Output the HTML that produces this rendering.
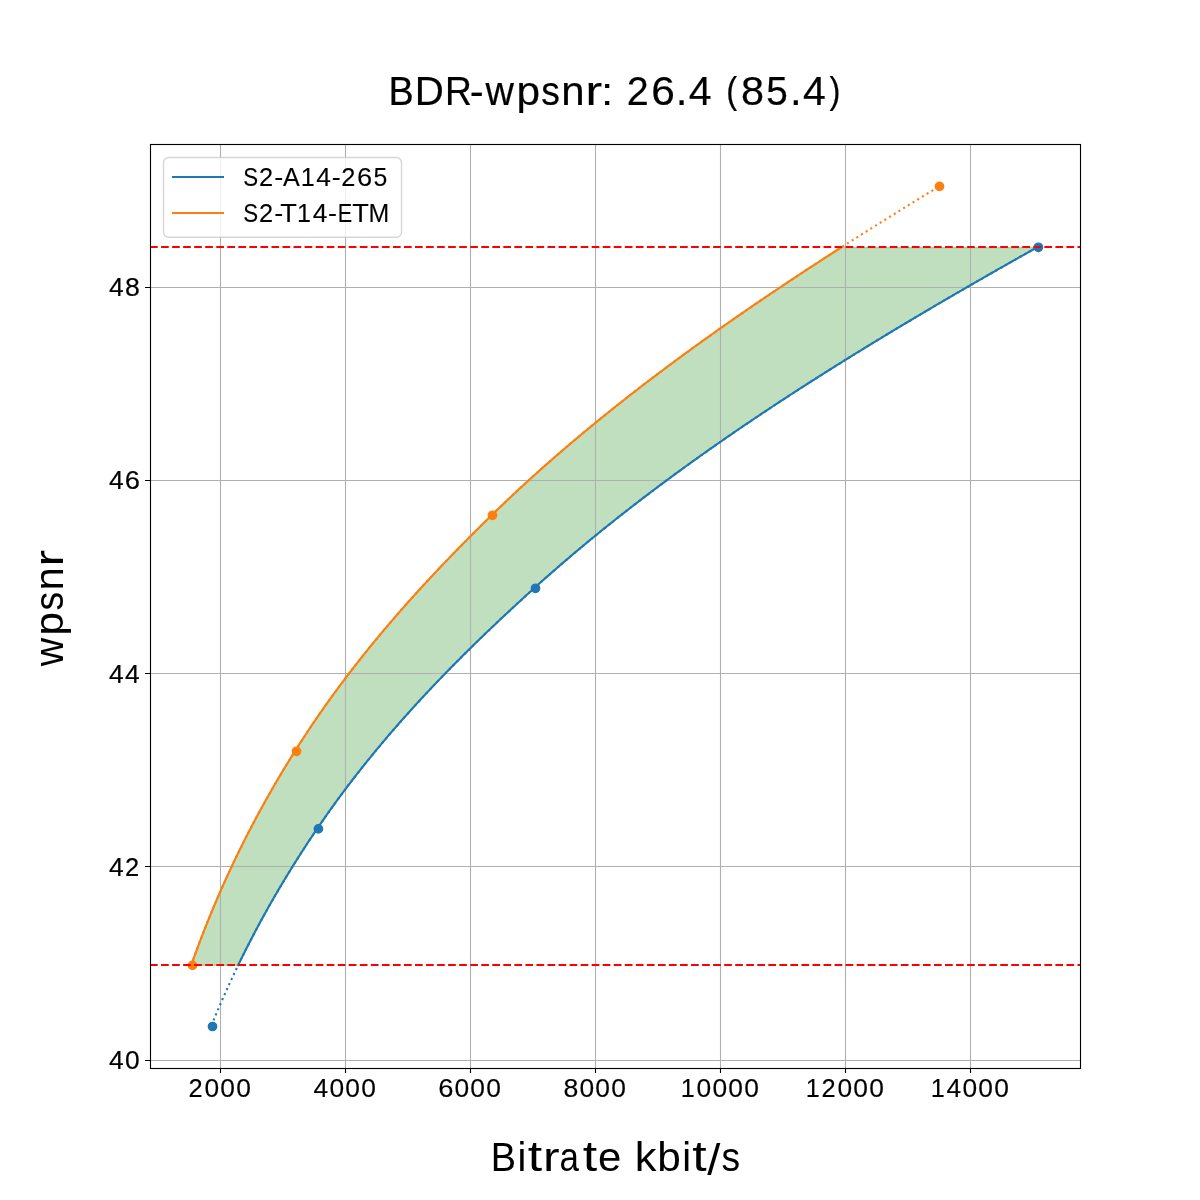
<!DOCTYPE html>
<html><head><meta charset="utf-8"><title>BDR-wpsnr</title>
<style>
html,body{margin:0;padding:0;background:#fff;}
body{width:1200px;height:1200px;overflow:hidden;font-family:"Liberation Sans",sans-serif;}
svg{display:block;}
svg text{font-family:"Liberation Sans",sans-serif;}
svg{will-change:transform;}
</style></head>
<body>
<svg width="1200" height="1200" viewBox="0 0 1200 1200" font-family="Liberation Sans, sans-serif">
<rect width="1200" height="1200" fill="#fff"/>
<path d="M238.17,965.20 L239.92,961.59 L241.68,957.99 L243.47,954.38 L245.27,950.78 L247.09,947.17 L248.93,943.56 L250.79,939.96 L252.66,936.35 L254.56,932.75 L256.47,929.14 L258.40,925.53 L260.34,921.93 L262.31,918.32 L264.29,914.72 L266.30,911.11 L268.32,907.50 L270.36,903.90 L272.41,900.29 L274.49,896.69 L276.59,893.08 L278.70,889.47 L280.83,885.87 L282.99,882.26 L285.16,878.66 L287.35,875.05 L289.55,871.44 L291.78,867.84 L294.03,864.23 L296.29,860.63 L298.58,857.02 L300.88,853.41 L303.20,849.81 L305.55,846.20 L307.91,842.59 L310.29,838.99 L312.69,835.38 L315.10,831.78 L317.54,828.17 L320.00,824.56 L322.48,820.96 L324.99,817.35 L327.52,813.75 L330.08,810.14 L332.66,806.53 L335.26,802.93 L337.89,799.32 L340.55,795.72 L343.23,792.11 L345.93,788.50 L348.66,784.90 L351.41,781.29 L354.19,777.69 L356.99,774.08 L359.82,770.47 L362.68,766.87 L365.55,763.26 L368.46,759.66 L371.39,756.05 L374.34,752.44 L377.32,748.84 L380.32,745.23 L383.35,741.63 L386.41,738.02 L389.49,734.41 L392.59,730.81 L395.72,727.20 L398.88,723.60 L402.06,719.99 L405.26,716.38 L408.49,712.78 L411.74,709.17 L415.02,705.57 L418.32,701.96 L421.65,698.35 L425.00,694.75 L428.38,691.14 L431.78,687.54 L435.20,683.93 L438.65,680.32 L442.12,676.72 L445.62,673.11 L449.14,669.51 L452.68,665.90 L456.24,662.29 L459.83,658.69 L463.44,655.08 L467.07,651.48 L470.73,647.87 L474.41,644.26 L478.10,640.66 L481.82,637.05 L485.57,633.45 L489.33,629.84 L493.11,626.23 L496.91,622.63 L500.74,619.02 L504.58,615.42 L508.44,611.81 L512.33,608.20 L516.23,604.60 L520.14,600.99 L524.08,597.38 L528.04,593.78 L532.01,590.17 L536.00,586.57 L540.01,582.96 L544.06,579.35 L548.13,575.75 L552.24,572.14 L556.37,568.54 L560.53,564.93 L564.72,561.32 L568.94,557.72 L573.19,554.11 L577.47,550.51 L581.79,546.90 L586.13,543.29 L590.49,539.69 L594.89,536.08 L599.32,532.48 L603.78,528.87 L608.27,525.26 L612.79,521.66 L617.34,518.05 L621.92,514.45 L626.52,510.84 L631.16,507.23 L635.83,503.63 L640.53,500.02 L645.25,496.42 L650.01,492.81 L654.80,489.20 L659.61,485.60 L664.46,481.99 L669.33,478.39 L674.24,474.78 L679.17,471.17 L684.14,467.57 L689.13,463.96 L694.15,460.36 L699.20,456.75 L704.28,453.14 L709.39,449.54 L714.53,445.93 L719.70,442.33 L724.90,438.72 L730.12,435.11 L735.37,431.51 L740.66,427.90 L745.97,424.30 L751.30,420.69 L756.67,417.08 L762.06,413.48 L767.49,409.87 L772.94,406.27 L778.41,402.66 L783.92,399.05 L789.45,395.45 L795.01,391.84 L800.59,388.24 L806.20,384.63 L811.84,381.02 L817.50,377.42 L823.20,373.81 L828.91,370.21 L834.65,366.60 L840.42,362.99 L846.21,359.39 L852.03,355.78 L857.87,352.17 L863.73,348.57 L869.62,344.96 L875.54,341.36 L881.47,337.75 L887.43,334.14 L893.42,330.54 L899.42,326.93 L905.45,323.33 L911.50,319.72 L917.57,316.11 L923.67,312.51 L929.78,308.90 L935.92,305.30 L942.07,301.69 L948.25,298.08 L954.44,294.48 L960.66,290.87 L966.89,287.27 L973.15,283.66 L979.42,280.05 L985.70,276.45 L992.01,272.84 L998.33,269.24 L1004.67,265.63 L1011.03,262.02 L1017.40,258.42 L1023.78,254.81 L1030.18,251.21 L1036.60,247.60 L840.95,247.60 L835.33,251.21 L829.73,254.81 L824.15,258.42 L818.59,262.02 L813.05,265.63 L807.53,269.24 L802.04,272.84 L796.56,276.45 L791.11,280.05 L785.68,283.66 L780.27,287.27 L774.89,290.87 L769.53,294.48 L764.19,298.08 L758.88,301.69 L753.59,305.30 L748.33,308.90 L743.09,312.51 L737.87,316.11 L732.68,319.72 L727.52,323.33 L722.38,326.93 L717.26,330.54 L712.17,334.14 L707.11,337.75 L702.07,341.36 L697.06,344.96 L692.07,348.57 L687.11,352.17 L682.18,355.78 L677.27,359.39 L672.39,362.99 L667.54,366.60 L662.71,370.21 L657.92,373.81 L653.14,377.42 L648.40,381.02 L643.68,384.63 L638.99,388.24 L634.33,391.84 L629.69,395.45 L625.09,399.05 L620.51,402.66 L615.96,406.27 L611.43,409.87 L606.94,413.48 L602.47,417.08 L598.03,420.69 L593.62,424.30 L589.23,427.90 L584.88,431.51 L580.55,435.11 L576.25,438.72 L571.98,442.33 L567.74,445.93 L563.52,449.54 L559.33,453.14 L555.17,456.75 L551.04,460.36 L546.94,463.96 L542.87,467.57 L538.82,471.17 L534.80,474.78 L530.81,478.39 L526.85,481.99 L522.92,485.60 L519.01,489.20 L515.13,492.81 L511.28,496.42 L507.46,500.02 L503.67,503.63 L499.90,507.23 L496.16,510.84 L492.45,514.45 L488.76,518.05 L485.09,521.66 L481.44,525.26 L477.80,528.87 L474.18,532.48 L470.58,536.08 L467.00,539.69 L463.44,543.29 L459.90,546.90 L456.37,550.51 L452.87,554.11 L449.38,557.72 L445.92,561.32 L442.48,564.93 L439.05,568.54 L435.65,572.14 L432.27,575.75 L428.90,579.35 L425.56,582.96 L422.25,586.57 L418.95,590.17 L415.67,593.78 L412.42,597.38 L409.19,600.99 L405.98,604.60 L402.79,608.20 L399.63,611.81 L396.49,615.42 L393.37,619.02 L390.27,622.63 L387.19,626.23 L384.14,629.84 L381.11,633.45 L378.11,637.05 L375.13,640.66 L372.17,644.26 L369.23,647.87 L366.32,651.48 L363.43,655.08 L360.56,658.69 L357.72,662.29 L354.90,665.90 L352.10,669.51 L349.33,673.11 L346.58,676.72 L343.85,680.32 L341.15,683.93 L338.47,687.54 L335.81,691.14 L333.17,694.75 L330.56,698.35 L327.98,701.96 L325.41,705.57 L322.87,709.17 L320.35,712.78 L317.86,716.38 L315.38,719.99 L312.93,723.60 L310.51,727.20 L308.10,730.81 L305.72,734.41 L303.36,738.02 L301.03,741.63 L298.71,745.23 L296.42,748.84 L294.15,752.44 L291.90,756.05 L289.67,759.66 L287.45,763.26 L285.26,766.87 L283.08,770.47 L280.92,774.08 L278.78,777.69 L276.65,781.29 L274.55,784.90 L272.46,788.50 L270.39,792.11 L268.34,795.72 L266.31,799.32 L264.30,802.93 L262.30,806.53 L260.32,810.14 L258.36,813.75 L256.42,817.35 L254.49,820.96 L252.58,824.56 L250.69,828.17 L248.82,831.78 L246.97,835.38 L245.13,838.99 L243.31,842.59 L241.51,846.20 L239.72,849.81 L237.96,853.41 L236.20,857.02 L234.47,860.63 L232.75,864.23 L231.05,867.84 L229.37,871.44 L227.70,875.05 L226.06,878.66 L224.42,882.26 L222.81,885.87 L221.21,889.47 L219.62,893.08 L218.05,896.69 L216.50,900.29 L214.97,903.90 L213.45,907.50 L211.94,911.11 L210.46,914.72 L208.98,918.32 L207.53,921.93 L206.09,925.53 L204.66,929.14 L203.25,932.75 L201.85,936.35 L200.47,939.96 L199.11,943.56 L197.76,947.17 L196.42,950.78 L195.10,954.38 L193.79,957.99 L192.50,961.59 L191.22,965.20 Z" fill="#008000" fill-opacity="0.25" stroke="#008000" stroke-opacity="0.25" stroke-width="1.39"/>
<path d="M150,287.5 H1080 M150,480.5 H1080 M150,673.5 H1080 M150,866.5 H1080 M150,1060.5 H1080 M220.5,144 V1068 M345.5,144 V1068 M470.5,144 V1068 M595.5,144 V1068 M720.5,144 V1068 M845.5,144 V1068 M970.5,144 V1068" stroke="#b0b0b0" stroke-width="1.11" fill="none"/>
<path d="M211.40,1025.51 L212.46,1022.90 L213.53,1020.30 L214.61,1017.69 L215.69,1015.09 L216.79,1012.48 L217.89,1009.88 L219.00,1007.28 L220.12,1004.67 L221.25,1002.07 L222.39,999.46 L223.53,996.86 L224.69,994.25 L225.85,991.65 L227.02,989.04 L228.21,986.44 L229.39,983.84 L230.59,981.23 L231.80,978.63 L233.02,976.02 L234.24,973.42 L235.48,970.81 L236.72,968.21 L237.97,965.61 L239.23,963.00 L240.50,960.40 L241.78,957.79 L243.07,955.19 L244.37,952.58 L245.67,949.98 L246.99,947.37 L248.32,944.77 L249.65,942.17 L251.00,939.56 L252.35,936.96 L253.71,934.35 L255.08,931.75 L256.47,929.14 L257.86,926.54 L259.26,923.94 L260.67,921.33 L262.09,918.73 L263.52,916.12 L264.96,913.52 L266.41,910.91 L267.86,908.31 L269.33,905.71 L270.81,903.10 L272.30,900.50 L273.79,897.89 L275.30,895.29 L276.82,892.68 L278.34,890.08 L279.88,887.47 L281.43,884.87 L282.98,882.27 L284.55,879.66 L286.12,877.06 L287.71,874.45 L289.31,871.85 L290.91,869.24 L292.53,866.64 L294.15,864.04 L295.79,861.43 L297.43,858.83 L299.09,856.22 L300.75,853.62 L302.43,851.01 L304.11,848.41 L305.80,845.80 L307.51,843.20 L309.22,840.60 L310.95,837.99 L312.68,835.39 L314.43,832.78 L316.18,830.18 L317.95,827.57 L319.72,824.97 L321.51,822.37 L323.31,819.76 L325.13,817.16 L326.95,814.55 L328.79,811.95 L330.65,809.34 L332.51,806.74 L334.39,804.14 L336.28,801.53 L338.18,798.93 L340.10,796.32 L342.03,793.72 L343.97,791.11 L345.93,788.51 L347.89,785.90 L349.88,783.30 L351.87,780.70 L353.88,778.09 L355.90,775.49 L357.93,772.88 L359.98,770.28 L362.04,767.67 L364.11,765.07 L366.19,762.47 L368.29,759.86 L370.40,757.26 L372.53,754.65 L374.67,752.05 L376.82,749.44 L378.98,746.84 L381.16,744.23 L383.35,741.63 L385.55,739.03 L387.77,736.42 L390.00,733.82 L392.24,731.21 L394.50,728.61 L396.77,726.00 L399.05,723.40 L401.34,720.80 L403.65,718.19 L405.97,715.59 L408.31,712.98 L410.65,710.38 L413.01,707.77 L415.38,705.17 L417.77,702.57 L420.17,699.96 L422.58,697.36 L425.00,694.75 L427.44,692.15 L429.88,689.54 L432.34,686.94 L434.82,684.33 L437.30,681.73 L439.80,679.13 L442.31,676.52 L444.84,673.92 L447.37,671.31 L449.92,668.71 L452.48,666.10 L455.05,663.50 L457.63,660.90 L460.23,658.29 L462.83,655.69 L465.45,653.08 L468.08,650.48 L470.72,647.87 L473.38,645.27 L476.04,642.66 L478.72,640.06 L481.41,637.46 L484.10,634.85 L486.81,632.25 L489.53,629.64 L492.26,627.04 L495.01,624.43 L497.76,621.83 L500.52,619.23 L503.29,616.62 L506.08,614.02 L508.87,611.41 L511.67,608.81 L514.49,606.20 L517.31,603.60 L520.14,601.00 L522.98,598.39 L525.83,595.79 L528.69,593.18 L531.56,590.58 L534.44,587.97 L537.33,585.37 L540.23,582.76 L543.15,580.16 L546.09,577.56 L549.04,574.95 L552.00,572.35 L554.98,569.74 L557.98,567.14 L560.99,564.53 L564.02,561.93 L567.06,559.33 L570.12,556.72 L573.19,554.12 L576.28,551.51 L579.38,548.91 L582.50,546.30 L585.64,543.70 L588.79,541.09 L591.95,538.49 L595.13,535.89 L598.33,533.28 L601.54,530.68 L604.77,528.07 L608.02,525.47 L611.28,522.86 L614.55,520.26 L617.84,517.66 L621.15,515.05 L624.47,512.45 L627.80,509.84 L631.16,507.24 L634.53,504.63 L637.91,502.03 L641.31,499.43 L644.72,496.82 L648.15,494.22 L651.60,491.61 L655.06,489.01 L658.54,486.40 L662.03,483.80 L665.53,481.19 L669.06,478.59 L672.60,475.99 L676.15,473.38 L679.72,470.78 L683.30,468.17 L686.90,465.57 L690.52,462.96 L694.15,460.36 L697.79,457.76 L701.45,455.15 L705.13,452.55 L708.82,449.94 L712.53,447.34 L716.25,444.73 L719.98,442.13 L723.73,439.52 L727.50,436.92 L731.28,434.32 L735.08,431.71 L738.89,429.11 L742.71,426.50 L746.55,423.90 L750.41,421.29 L754.28,418.69 L758.16,416.09 L762.06,413.48 L765.97,410.88 L769.90,408.27 L773.84,405.67 L777.80,403.06 L781.77,400.46 L785.75,397.86 L789.75,395.25 L793.76,392.65 L797.79,390.04 L801.83,387.44 L805.88,384.83 L809.95,382.23 L814.03,379.62 L818.13,377.02 L822.24,374.42 L826.36,371.81 L830.50,369.21 L834.65,366.60 L838.81,364.00 L842.98,361.39 L847.17,358.79 L851.37,356.19 L855.59,353.58 L859.82,350.98 L864.05,348.37 L868.31,345.77 L872.57,343.16 L876.85,340.56 L881.14,337.95 L885.44,335.35 L889.75,332.75 L894.08,330.14 L898.41,327.54 L902.76,324.93 L907.12,322.33 L911.50,319.72 L915.88,317.12 L920.27,314.52 L924.68,311.91 L929.10,309.31 L933.52,306.70 L937.96,304.10 L942.41,301.49 L946.87,298.89 L951.34,296.29 L955.82,293.68 L960.31,291.08 L964.81,288.47 L969.32,285.87 L973.84,283.26 L978.36,280.66 L982.90,278.05 L987.45,275.45 L992.00,272.85 L996.57,270.24 L1001.14,267.64 L1005.72,265.03 L1010.31,262.43 L1014.91,259.82 L1019.52,257.22 L1024.13,254.62 L1028.75,252.01 L1033.38,249.41 L1038.02,246.80" stroke="#1f77b4" stroke-width="2.08" fill="none" stroke-dasharray="2.0833 3.4375" stroke-linecap="butt"/>
<path d="M238.17,965.20 L239.33,962.80 L240.50,960.40 L241.68,958.00 L242.87,955.60 L244.06,953.20 L245.26,950.80 L246.47,948.40 L247.69,946.00 L248.92,943.60 L250.15,941.20 L251.39,938.80 L252.64,936.40 L253.90,934.00 L255.16,931.60 L256.44,929.20 L257.72,926.80 L259.01,924.40 L260.31,922.00 L261.61,919.60 L262.93,917.20 L264.25,914.80 L265.58,912.40 L266.92,910.00 L268.26,907.60 L269.62,905.20 L270.98,902.80 L272.35,900.40 L273.73,898.00 L275.12,895.60 L276.52,893.20 L277.92,890.80 L279.33,888.40 L280.75,886.00 L282.18,883.60 L283.62,881.20 L285.07,878.80 L286.52,876.40 L287.99,874.00 L289.46,871.60 L290.94,869.20 L292.43,866.80 L293.92,864.40 L295.43,862.00 L296.94,859.60 L298.46,857.20 L299.99,854.80 L301.53,852.40 L303.08,850.00 L304.64,847.60 L306.20,845.20 L307.77,842.80 L309.35,840.40 L310.94,838.00 L312.54,835.60 L314.15,833.20 L315.76,830.80 L317.39,828.40 L319.02,826.00 L320.66,823.60 L322.32,821.20 L323.98,818.80 L325.66,816.40 L327.34,814.00 L329.04,811.60 L330.75,809.20 L332.47,806.80 L334.20,804.40 L335.94,802.00 L337.69,799.60 L339.45,797.20 L341.22,794.80 L343.01,792.40 L344.80,790.00 L346.61,787.60 L348.43,785.20 L350.26,782.80 L352.10,780.40 L353.95,778.00 L355.81,775.60 L357.68,773.20 L359.57,770.80 L361.46,768.40 L363.37,766.00 L365.28,763.60 L367.21,761.20 L369.15,758.80 L371.10,756.40 L373.06,754.00 L375.04,751.60 L377.02,749.20 L379.02,746.80 L381.02,744.40 L383.04,742.00 L385.07,739.60 L387.11,737.20 L389.16,734.80 L391.22,732.40 L393.29,730.00 L395.38,727.60 L397.47,725.20 L399.58,722.80 L401.69,720.40 L403.82,718.00 L405.96,715.60 L408.11,713.20 L410.27,710.80 L412.44,708.40 L414.63,706.00 L416.82,703.60 L419.02,701.20 L421.24,698.80 L423.47,696.40 L425.70,694.00 L427.95,691.60 L430.21,689.20 L432.48,686.80 L434.76,684.40 L437.05,682.00 L439.35,679.60 L441.66,677.20 L443.98,674.80 L446.31,672.40 L448.65,670.00 L451.01,667.60 L453.37,665.20 L455.74,662.80 L458.12,660.40 L460.52,658.00 L462.92,655.60 L465.33,653.20 L467.76,650.80 L470.19,648.40 L472.63,646.00 L475.08,643.60 L477.55,641.20 L480.02,638.80 L482.50,636.40 L484.99,634.00 L487.49,631.60 L490.00,629.20 L492.51,626.80 L495.04,624.40 L497.58,622.00 L500.12,619.60 L502.68,617.20 L505.24,614.80 L507.81,612.40 L510.39,610.00 L512.98,607.60 L515.57,605.20 L518.18,602.80 L520.79,600.40 L523.41,598.00 L526.04,595.60 L528.67,593.20 L531.32,590.80 L533.97,588.40 L536.63,586.00 L539.30,583.60 L541.98,581.20 L544.68,578.80 L547.39,576.40 L550.12,574.00 L552.86,571.60 L555.61,569.20 L558.37,566.80 L561.15,564.40 L563.93,562.00 L566.74,559.60 L569.55,557.20 L572.38,554.80 L575.22,552.40 L578.08,550.00 L580.95,547.60 L583.83,545.20 L586.72,542.80 L589.63,540.40 L592.55,538.00 L595.49,535.60 L598.43,533.20 L601.39,530.80 L604.37,528.40 L607.35,526.00 L610.35,523.60 L613.37,521.20 L616.39,518.80 L619.43,516.40 L622.49,514.00 L625.55,511.60 L628.63,509.20 L631.72,506.80 L634.83,504.40 L637.95,502.00 L641.08,499.60 L644.22,497.20 L647.38,494.80 L650.55,492.40 L653.74,490.00 L656.94,487.60 L660.15,485.20 L663.37,482.80 L666.61,480.40 L669.86,478.00 L673.12,475.60 L676.40,473.20 L679.69,470.80 L682.99,468.40 L686.30,466.00 L689.63,463.60 L692.97,461.20 L696.33,458.80 L699.70,456.40 L703.08,454.00 L706.47,451.60 L709.87,449.20 L713.29,446.80 L716.72,444.40 L720.17,442.00 L723.62,439.60 L727.09,437.20 L730.58,434.80 L734.07,432.40 L737.58,430.00 L741.10,427.60 L744.63,425.20 L748.18,422.80 L751.73,420.40 L755.30,418.00 L758.89,415.60 L762.48,413.20 L766.09,410.80 L769.71,408.40 L773.34,406.00 L776.98,403.60 L780.64,401.20 L784.30,398.80 L787.98,396.40 L791.68,394.00 L795.38,391.60 L799.09,389.20 L802.82,386.80 L806.56,384.40 L810.31,382.00 L814.07,379.60 L817.85,377.20 L821.63,374.80 L825.43,372.40 L829.24,370.00 L833.06,367.60 L836.89,365.20 L840.73,362.80 L844.58,360.40 L848.45,358.00 L852.32,355.60 L856.21,353.20 L860.10,350.80 L864.01,348.40 L867.93,346.00 L871.86,343.60 L875.80,341.20 L879.74,338.80 L883.70,336.40 L887.67,334.00 L891.65,331.60 L895.64,329.20 L899.65,326.80 L903.66,324.40 L907.68,322.00 L911.71,319.60 L915.74,317.20 L919.79,314.80 L923.85,312.40 L927.92,310.00 L932.00,307.60 L936.08,305.20 L940.18,302.80 L944.28,300.40 L948.39,298.00 L952.52,295.60 L956.65,293.20 L960.78,290.80 L964.93,288.40 L969.09,286.00 L973.25,283.60 L977.42,281.20 L981.60,278.80 L985.79,276.40 L989.98,274.00 L994.19,271.60 L998.40,269.20 L1002.61,266.80 L1006.84,264.40 L1011.07,262.00 L1015.31,259.60 L1019.55,257.20 L1023.81,254.80 L1028.06,252.40 L1032.33,250.00 L1036.60,247.60" stroke="#1f77b4" stroke-width="2.08" fill="none" stroke-linejoin="round" stroke-linecap="square"/>
<path d="M191.42,964.65 L192.34,962.05 L193.27,959.44 L194.21,956.84 L195.15,954.24 L196.11,951.63 L197.07,949.03 L198.04,946.42 L199.01,943.82 L199.99,941.22 L200.99,938.61 L201.98,936.01 L202.99,933.41 L204.01,930.80 L205.03,928.20 L206.06,925.60 L207.10,922.99 L208.15,920.39 L209.20,917.79 L210.26,915.18 L211.33,912.58 L212.41,909.98 L213.50,907.37 L214.60,904.77 L215.70,902.17 L216.81,899.56 L217.94,896.96 L219.06,894.36 L220.20,891.75 L221.35,889.15 L222.50,886.55 L223.67,883.94 L224.84,881.34 L226.02,878.74 L227.21,876.13 L228.41,873.53 L229.61,870.93 L230.83,868.32 L232.05,865.72 L233.28,863.11 L234.53,860.51 L235.78,857.91 L237.04,855.30 L238.30,852.70 L239.58,850.10 L240.87,847.49 L242.16,844.89 L243.47,842.29 L244.78,839.68 L246.10,837.08 L247.43,834.48 L248.77,831.87 L250.12,829.27 L251.48,826.67 L252.85,824.06 L254.23,821.46 L255.61,818.86 L257.01,816.25 L258.41,813.65 L259.83,811.05 L261.25,808.44 L262.68,805.84 L264.12,803.24 L265.58,800.63 L267.04,798.03 L268.51,795.43 L269.99,792.82 L271.48,790.22 L272.97,787.61 L274.48,785.01 L276.00,782.41 L277.53,779.80 L279.06,777.20 L280.61,774.60 L282.17,771.99 L283.73,769.39 L285.30,766.79 L286.89,764.18 L288.48,761.58 L290.09,758.98 L291.70,756.37 L293.32,753.77 L294.95,751.17 L296.59,748.56 L298.25,745.96 L299.91,743.36 L301.59,740.75 L303.28,738.15 L304.98,735.55 L306.69,732.94 L308.41,730.34 L310.15,727.74 L311.90,725.13 L313.66,722.53 L315.43,719.93 L317.21,717.32 L319.01,714.72 L320.81,712.12 L322.63,709.51 L324.46,706.91 L326.31,704.30 L328.16,701.70 L330.03,699.10 L331.91,696.49 L333.80,693.89 L335.70,691.29 L337.62,688.68 L339.54,686.08 L341.48,683.48 L343.44,680.87 L345.40,678.27 L347.38,675.67 L349.36,673.06 L351.36,670.46 L353.38,667.86 L355.40,665.25 L357.44,662.65 L359.49,660.05 L361.55,657.44 L363.62,654.84 L365.71,652.24 L367.80,649.63 L369.91,647.03 L372.03,644.43 L374.17,641.82 L376.31,639.22 L378.47,636.62 L380.64,634.01 L382.82,631.41 L385.02,628.80 L387.22,626.20 L389.44,623.60 L391.67,620.99 L393.91,618.39 L396.16,615.79 L398.43,613.18 L400.70,610.58 L402.99,607.98 L405.29,605.37 L407.60,602.77 L409.93,600.17 L412.26,597.56 L414.61,594.96 L416.96,592.36 L419.33,589.75 L421.71,587.15 L424.10,584.55 L426.51,581.94 L428.92,579.34 L431.34,576.74 L433.78,574.13 L436.23,571.53 L438.68,568.93 L441.15,566.32 L443.63,563.72 L446.12,561.12 L448.62,558.51 L451.13,555.91 L453.65,553.31 L456.18,550.70 L458.72,548.10 L461.28,545.49 L463.84,542.89 L466.41,540.29 L468.99,537.68 L471.58,535.08 L474.18,532.48 L476.79,529.87 L479.41,527.27 L482.04,524.67 L484.68,522.06 L487.33,519.46 L489.98,516.86 L492.65,514.25 L495.33,511.65 L498.02,509.05 L500.72,506.44 L503.44,503.84 L506.18,501.24 L508.93,498.63 L511.69,496.03 L514.47,493.43 L517.27,490.82 L520.08,488.22 L522.90,485.62 L525.74,483.01 L528.59,480.41 L531.45,477.81 L534.33,475.20 L537.23,472.60 L540.14,469.99 L543.07,467.39 L546.01,464.79 L548.96,462.18 L551.93,459.58 L554.91,456.98 L557.91,454.37 L560.92,451.77 L563.95,449.17 L566.99,446.56 L570.05,443.96 L573.12,441.36 L576.21,438.75 L579.31,436.15 L582.43,433.55 L585.56,430.94 L588.70,428.34 L591.86,425.74 L595.04,423.13 L598.23,420.53 L601.43,417.93 L604.65,415.32 L607.88,412.72 L611.13,410.12 L614.39,407.51 L617.67,404.91 L620.96,402.31 L624.26,399.70 L627.58,397.10 L630.92,394.50 L634.26,391.89 L637.63,389.29 L641.00,386.68 L644.40,384.08 L647.80,381.48 L651.22,378.87 L654.66,376.27 L658.11,373.67 L661.57,371.06 L665.05,368.46 L668.54,365.86 L672.04,363.25 L675.56,360.65 L679.09,358.05 L682.64,355.44 L686.20,352.84 L689.78,350.24 L693.36,347.63 L696.97,345.03 L700.58,342.43 L704.21,339.82 L707.85,337.22 L711.51,334.62 L715.18,332.01 L718.86,329.41 L722.56,326.81 L726.27,324.20 L729.99,321.60 L733.72,319.00 L737.47,316.39 L741.23,313.79 L745.01,311.18 L748.80,308.58 L752.60,305.98 L756.41,303.37 L760.23,300.77 L764.07,298.17 L767.92,295.56 L771.78,292.96 L775.66,290.36 L779.54,287.75 L783.44,285.15 L787.35,282.55 L791.28,279.94 L795.21,277.34 L799.16,274.74 L803.11,272.13 L807.08,269.53 L811.06,266.93 L815.05,264.32 L819.06,261.72 L823.07,259.12 L827.09,256.51 L831.13,253.91 L835.18,251.31 L839.23,248.70 L843.30,246.10 L847.38,243.50 L851.46,240.89 L855.56,238.29 L859.67,235.69 L863.79,233.08 L867.91,230.48 L872.05,227.87 L876.19,225.27 L880.35,222.67 L884.51,220.06 L888.69,217.46 L892.87,214.86 L897.06,212.25 L901.26,209.65 L905.47,207.05 L909.68,204.44 L913.91,201.84 L918.14,199.24 L922.38,196.63 L926.62,194.03 L930.88,191.43 L935.14,188.82 L939.41,186.22" stroke="#ff7f0e" stroke-width="2.08" fill="none" stroke-dasharray="2.0833 3.4375" stroke-linecap="butt"/>
<path d="M191.22,965.20 L192.07,962.80 L192.93,960.40 L193.79,958.00 L194.66,955.60 L195.53,953.20 L196.41,950.80 L197.30,948.40 L198.19,946.00 L199.09,943.60 L200.00,941.20 L200.91,938.80 L201.84,936.40 L202.76,934.00 L203.70,931.60 L204.64,929.20 L205.58,926.80 L206.54,924.40 L207.50,922.00 L208.47,919.60 L209.44,917.20 L210.42,914.80 L211.41,912.40 L212.40,910.00 L213.41,907.60 L214.42,905.20 L215.43,902.80 L216.46,900.40 L217.49,898.00 L218.52,895.60 L219.57,893.20 L220.62,890.80 L221.68,888.40 L222.75,886.00 L223.82,883.60 L224.90,881.20 L225.99,878.80 L227.09,876.40 L228.19,874.00 L229.30,871.60 L230.42,869.20 L231.54,866.80 L232.67,864.40 L233.81,862.00 L234.96,859.60 L236.12,857.20 L237.28,854.80 L238.45,852.40 L239.63,850.00 L240.81,847.60 L242.01,845.20 L243.21,842.80 L244.42,840.40 L245.63,838.00 L246.86,835.60 L248.09,833.20 L249.33,830.80 L250.57,828.40 L251.83,826.00 L253.09,823.60 L254.36,821.20 L255.64,818.80 L256.93,816.40 L258.22,814.00 L259.52,811.60 L260.83,809.20 L262.15,806.80 L263.48,804.40 L264.81,802.00 L266.15,799.60 L267.50,797.20 L268.86,794.80 L270.23,792.40 L271.60,790.00 L272.98,787.60 L274.37,785.20 L275.77,782.80 L277.18,780.40 L278.59,778.00 L280.01,775.60 L281.44,773.20 L282.88,770.80 L284.33,768.40 L285.78,766.00 L287.25,763.60 L288.72,761.20 L290.19,758.80 L291.68,756.40 L293.18,754.00 L294.68,751.60 L296.19,749.20 L297.71,746.80 L299.24,744.40 L300.78,742.00 L302.34,739.60 L303.90,737.20 L305.47,734.80 L307.05,732.40 L308.64,730.00 L310.24,727.60 L311.85,725.20 L313.47,722.80 L315.10,720.40 L316.75,718.00 L318.40,715.60 L320.06,713.20 L321.73,710.80 L323.41,708.40 L325.10,706.00 L326.81,703.60 L328.52,701.20 L330.24,698.80 L331.98,696.40 L333.72,694.00 L335.47,691.60 L337.24,689.20 L339.01,686.80 L340.80,684.40 L342.59,682.00 L344.40,679.60 L346.21,677.20 L348.04,674.80 L349.87,672.40 L351.72,670.00 L353.58,667.60 L355.44,665.20 L357.32,662.80 L359.21,660.40 L361.11,658.00 L363.01,655.60 L364.93,653.20 L366.86,650.80 L368.80,648.40 L370.75,646.00 L372.71,643.60 L374.68,641.20 L376.66,638.80 L378.65,636.40 L380.65,634.00 L382.66,631.60 L384.68,629.20 L386.71,626.80 L388.75,624.40 L390.81,622.00 L392.87,619.60 L394.94,617.20 L397.02,614.80 L399.11,612.40 L401.21,610.00 L403.32,607.60 L405.45,605.20 L407.58,602.80 L409.72,600.40 L411.87,598.00 L414.03,595.60 L416.20,593.20 L418.38,590.80 L420.57,588.40 L422.77,586.00 L424.98,583.60 L427.19,581.20 L429.42,578.80 L431.66,576.40 L433.90,574.00 L436.16,571.60 L438.42,569.20 L440.70,566.80 L442.98,564.40 L445.27,562.00 L447.57,559.60 L449.88,557.20 L452.20,554.80 L454.53,552.40 L456.87,550.00 L459.21,547.60 L461.57,545.20 L463.93,542.80 L466.30,540.40 L468.68,538.00 L471.06,535.60 L473.46,533.20 L475.86,530.80 L478.27,528.40 L480.69,526.00 L483.12,523.60 L485.56,521.20 L488.00,518.80 L490.45,516.40 L492.91,514.00 L495.38,511.60 L497.86,509.20 L500.35,506.80 L502.86,504.40 L505.38,502.00 L507.91,499.60 L510.45,497.20 L513.01,494.80 L515.57,492.40 L518.15,490.00 L520.75,487.60 L523.35,485.20 L525.97,482.80 L528.60,480.40 L531.24,478.00 L533.89,475.60 L536.56,473.20 L539.24,470.80 L541.93,468.40 L544.64,466.00 L547.35,463.60 L550.08,461.20 L552.82,458.80 L555.58,456.40 L558.34,454.00 L561.12,451.60 L563.91,449.20 L566.72,446.80 L569.53,444.40 L572.36,442.00 L575.20,439.60 L578.06,437.20 L580.93,434.80 L583.80,432.40 L586.70,430.00 L589.60,427.60 L592.52,425.20 L595.44,422.80 L598.38,420.40 L601.34,418.00 L604.30,415.60 L607.28,413.20 L610.27,410.80 L613.28,408.40 L616.29,406.00 L619.32,403.60 L622.36,401.20 L625.41,398.80 L628.47,396.40 L631.55,394.00 L634.64,391.60 L637.74,389.20 L640.86,386.80 L643.98,384.40 L647.12,382.00 L650.27,379.60 L653.43,377.20 L656.60,374.80 L659.79,372.40 L662.99,370.00 L666.20,367.60 L669.42,365.20 L672.65,362.80 L675.90,360.40 L679.16,358.00 L682.43,355.60 L685.71,353.20 L689.00,350.80 L692.30,348.40 L695.62,346.00 L698.95,343.60 L702.29,341.20 L705.64,338.80 L709.00,336.40 L712.38,334.00 L715.76,331.60 L719.16,329.20 L722.56,326.80 L725.98,324.40 L729.41,322.00 L732.86,319.60 L736.31,317.20 L739.77,314.80 L743.25,312.40 L746.73,310.00 L750.23,307.60 L753.73,305.20 L757.25,302.80 L760.78,300.40 L764.32,298.00 L767.87,295.60 L771.43,293.20 L775.00,290.80 L778.58,288.40 L782.17,286.00 L785.77,283.60 L789.38,281.20 L793.00,278.80 L796.63,276.40 L800.28,274.00 L803.93,271.60 L807.59,269.20 L811.26,266.80 L814.94,264.40 L818.63,262.00 L822.32,259.60 L826.03,257.20 L829.75,254.80 L833.47,252.40 L837.21,250.00 L840.95,247.60" stroke="#ff7f0e" stroke-width="2.08" fill="none" stroke-linejoin="round" stroke-linecap="square"/>
<circle cx="212.5" cy="1026.5" r="4.17" fill="#1f77b4" stroke="#1f77b4" stroke-width="1.39"/>
<circle cx="318.4" cy="828.9" r="4.17" fill="#1f77b4" stroke="#1f77b4" stroke-width="1.39"/>
<circle cx="535.5" cy="588.3" r="4.17" fill="#1f77b4" stroke="#1f77b4" stroke-width="1.39"/>
<circle cx="1038.4" cy="247.3" r="4.17" fill="#1f77b4" stroke="#1f77b4" stroke-width="1.39"/>
<circle cx="192.5" cy="965.4" r="4.17" fill="#ff7f0e" stroke="#ff7f0e" stroke-width="1.39"/>
<circle cx="296.5" cy="751.3" r="4.17" fill="#ff7f0e" stroke="#ff7f0e" stroke-width="1.39"/>
<circle cx="492.5" cy="515.3" r="4.17" fill="#ff7f0e" stroke="#ff7f0e" stroke-width="1.39"/>
<circle cx="939.5" cy="186.4" r="4.17" fill="#ff7f0e" stroke="#ff7f0e" stroke-width="1.39"/>
<path d="M150,247.0 H1080" stroke="#ff0000" stroke-width="2.08" stroke-dasharray="7.7083 3.3333" fill="none"/>
<path d="M150,965.0 H1080" stroke="#ff0000" stroke-width="2.08" stroke-dasharray="7.7083 3.3333" fill="none"/>
<rect x="150.5" y="144.5" width="930" height="924" fill="none" stroke="#000" stroke-width="1.11"/>
<path d="M220.5,1068 V1073 M345.5,1068 V1073 M470.5,1068 V1073 M595.5,1068 V1073 M720.5,1068 V1073 M845.5,1068 V1073 M970.5,1068 V1073 M145,287.5 H150 M145,480.5 H150 M145,673.5 H150 M145,866.5 H150 M145,1060.5 H150" stroke="#000" stroke-width="1.11" fill="none"/>
<g fill="#000" stroke="#000" stroke-width="0">
<text stroke="#000" stroke-width="0.15" transform="translate(187.94 1096.72)"><tspan x="0.55" y="0.00" font-size="26.57" textLength="14.13" lengthAdjust="spacingAndGlyphs">2</tspan><tspan x="16.52" y="0.00" font-size="26.57" textLength="14.66" lengthAdjust="spacingAndGlyphs">0</tspan><tspan x="32.43" y="0.00" font-size="26.57" textLength="14.66" lengthAdjust="spacingAndGlyphs">0</tspan><tspan x="48.34" y="0.00" font-size="26.57" textLength="14.66" lengthAdjust="spacingAndGlyphs">0</tspan></text>
<text stroke="#000" stroke-width="0.15" transform="translate(312.94 1096.72)"><tspan x="0.62" y="0.00" font-size="26.49" textLength="14.66" lengthAdjust="spacingAndGlyphs">4</tspan><tspan x="16.52" y="0.00" font-size="26.57" textLength="14.66" lengthAdjust="spacingAndGlyphs">0</tspan><tspan x="32.43" y="0.00" font-size="26.57" textLength="14.66" lengthAdjust="spacingAndGlyphs">0</tspan><tspan x="48.34" y="0.00" font-size="26.57" textLength="14.66" lengthAdjust="spacingAndGlyphs">0</tspan></text>
<text stroke="#000" stroke-width="0.15" transform="translate(437.94 1096.72)"><tspan x="0.36" y="0.00" font-size="26.57" textLength="15.17" lengthAdjust="spacingAndGlyphs">6</tspan><tspan x="16.52" y="0.00" font-size="26.57" textLength="14.66" lengthAdjust="spacingAndGlyphs">0</tspan><tspan x="32.43" y="0.00" font-size="26.57" textLength="14.66" lengthAdjust="spacingAndGlyphs">0</tspan><tspan x="48.34" y="0.00" font-size="26.57" textLength="14.66" lengthAdjust="spacingAndGlyphs">0</tspan></text>
<text stroke="#000" stroke-width="0.15" transform="translate(562.94 1096.72)"><tspan x="0.54" y="0.00" font-size="26.57" textLength="14.82" lengthAdjust="spacingAndGlyphs">8</tspan><tspan x="16.52" y="0.00" font-size="26.57" textLength="14.66" lengthAdjust="spacingAndGlyphs">0</tspan><tspan x="32.43" y="0.00" font-size="26.57" textLength="14.66" lengthAdjust="spacingAndGlyphs">0</tspan><tspan x="48.34" y="0.00" font-size="26.57" textLength="14.66" lengthAdjust="spacingAndGlyphs">0</tspan></text>
<text stroke="#000" stroke-width="0.15" transform="translate(679.98 1096.72)"><tspan x="0.83" y="0.00" font-size="26.49" textLength="14.00" lengthAdjust="spacingAndGlyphs">1</tspan><tspan x="16.52" y="0.00" font-size="26.57" textLength="14.66" lengthAdjust="spacingAndGlyphs">0</tspan><tspan x="32.43" y="0.00" font-size="26.57" textLength="14.66" lengthAdjust="spacingAndGlyphs">0</tspan><tspan x="48.34" y="0.00" font-size="26.57" textLength="14.66" lengthAdjust="spacingAndGlyphs">0</tspan><tspan x="64.24" y="0.00" font-size="26.57" textLength="14.66" lengthAdjust="spacingAndGlyphs">0</tspan></text>
<text stroke="#000" stroke-width="0.15" transform="translate(804.98 1096.72)"><tspan x="0.83" y="0.00" font-size="26.49" textLength="14.00" lengthAdjust="spacingAndGlyphs">1</tspan><tspan x="16.46" y="0.00" font-size="26.57" textLength="14.13" lengthAdjust="spacingAndGlyphs">2</tspan><tspan x="32.43" y="0.00" font-size="26.57" textLength="14.66" lengthAdjust="spacingAndGlyphs">0</tspan><tspan x="48.34" y="0.00" font-size="26.57" textLength="14.66" lengthAdjust="spacingAndGlyphs">0</tspan><tspan x="64.24" y="0.00" font-size="26.57" textLength="14.66" lengthAdjust="spacingAndGlyphs">0</tspan></text>
<text stroke="#000" stroke-width="0.15" transform="translate(929.98 1096.72)"><tspan x="0.83" y="0.00" font-size="26.49" textLength="14.00" lengthAdjust="spacingAndGlyphs">1</tspan><tspan x="16.52" y="0.00" font-size="26.49" textLength="14.66" lengthAdjust="spacingAndGlyphs">4</tspan><tspan x="32.43" y="0.00" font-size="26.57" textLength="14.66" lengthAdjust="spacingAndGlyphs">0</tspan><tspan x="48.34" y="0.00" font-size="26.57" textLength="14.66" lengthAdjust="spacingAndGlyphs">0</tspan><tspan x="64.24" y="0.00" font-size="26.57" textLength="14.66" lengthAdjust="spacingAndGlyphs">0</tspan></text>
<text transform="translate(489.95 1171.36)"><tspan x="0.72" y="0.00" font-size="41.21" textLength="25.20" lengthAdjust="spacingAndGlyphs">B</tspan><tspan x="27.68" y="0.00" font-size="40.78" textLength="8.83" lengthAdjust="spacingAndGlyphs">i</tspan><tspan x="37.74" y="0.00" font-size="42.24" textLength="14.44" lengthAdjust="spacingAndGlyphs">t</tspan><tspan x="52.95" y="0.00" font-size="40.48" textLength="16.59" lengthAdjust="spacingAndGlyphs">r</tspan><tspan x="69.57" y="0.00" font-size="40.48" textLength="19.45" lengthAdjust="spacingAndGlyphs">a</tspan><tspan x="92.81" y="0.00" font-size="42.24" textLength="14.44" lengthAdjust="spacingAndGlyphs">t</tspan><tspan x="108.16" y="0.00" font-size="40.48" textLength="23.36" lengthAdjust="spacingAndGlyphs">e</tspan><tspan x="131.72" y="0"> </tspan><tspan x="144.69" y="0.00" font-size="40.78" textLength="21.74" lengthAdjust="spacingAndGlyphs">k</tspan><tspan x="167.41" y="0.00" font-size="40.78" textLength="23.53" lengthAdjust="spacingAndGlyphs">b</tspan><tspan x="192.30" y="0.00" font-size="40.78" textLength="8.83" lengthAdjust="spacingAndGlyphs">i</tspan><tspan x="202.35" y="0.00" font-size="42.24" textLength="14.44" lengthAdjust="spacingAndGlyphs">t</tspan><tspan x="217.34" y="3.18" font-size="43.52" textLength="13.10" lengthAdjust="spacingAndGlyphs">/</tspan><tspan x="231.52" y="0.00" font-size="40.59" textLength="18.64" lengthAdjust="spacingAndGlyphs">s</tspan></text>
<text stroke="#000" stroke-width="0.2" transform="translate(108.47 1069.00)"><tspan x="0.62" y="0.00" font-size="26.49" textLength="14.66" lengthAdjust="spacingAndGlyphs">4</tspan><tspan x="16.52" y="0.00" font-size="26.57" textLength="14.66" lengthAdjust="spacingAndGlyphs">0</tspan></text>
<text stroke="#000" stroke-width="0.2" transform="translate(108.47 875.75)"><tspan x="0.62" y="0.00" font-size="26.49" textLength="14.66" lengthAdjust="spacingAndGlyphs">4</tspan><tspan x="16.46" y="0.00" font-size="26.57" textLength="14.13" lengthAdjust="spacingAndGlyphs">2</tspan></text>
<text stroke="#000" stroke-width="0.2" transform="translate(108.47 682.50)"><tspan x="0.62" y="0.00" font-size="26.49" textLength="14.66" lengthAdjust="spacingAndGlyphs">4</tspan><tspan x="16.52" y="0.00" font-size="26.49" textLength="14.66" lengthAdjust="spacingAndGlyphs">4</tspan></text>
<text stroke="#000" stroke-width="0.2" transform="translate(108.47 489.25)"><tspan x="0.62" y="0.00" font-size="26.49" textLength="14.66" lengthAdjust="spacingAndGlyphs">4</tspan><tspan x="16.27" y="0.00" font-size="26.57" textLength="15.17" lengthAdjust="spacingAndGlyphs">6</tspan></text>
<text stroke="#000" stroke-width="0.2" transform="translate(108.47 296.00)"><tspan x="0.62" y="0.00" font-size="26.49" textLength="14.66" lengthAdjust="spacingAndGlyphs">4</tspan><tspan x="16.44" y="0.00" font-size="26.57" textLength="14.82" lengthAdjust="spacingAndGlyphs">8</tspan></text>
<text transform="translate(62.99 667.99) rotate(-90)"><tspan x="1.69" y="0.00" font-size="40.25" textLength="28.39" lengthAdjust="spacingAndGlyphs">w</tspan><tspan x="32.61" y="0.00" font-size="40.51" textLength="23.53" lengthAdjust="spacingAndGlyphs">p</tspan><tspan x="57.56" y="0.00" font-size="40.59" textLength="18.64" lengthAdjust="spacingAndGlyphs">s</tspan><tspan x="77.50" y="0.00" font-size="40.48" textLength="23.32" lengthAdjust="spacingAndGlyphs">n</tspan><tspan x="101.62" y="0.00" font-size="40.48" textLength="16.59" lengthAdjust="spacingAndGlyphs">r</tspan></text>
<text stroke="#000" stroke-width="0.2" transform="translate(387.67 105.11)"><tspan x="0.72" y="0.00" font-size="41.21" textLength="25.20" lengthAdjust="spacingAndGlyphs">B</tspan><tspan x="27.20" y="0.00" font-size="41.21" textLength="29.06" lengthAdjust="spacingAndGlyphs">D</tspan><tspan x="57.39" y="0.00" font-size="41.21" textLength="26.86" lengthAdjust="spacingAndGlyphs">R</tspan><tspan x="82.13" y="0.00" font-size="40.07" textLength="13.96" lengthAdjust="spacingAndGlyphs">-</tspan><tspan x="97.81" y="0.00" font-size="40.25" textLength="28.39" lengthAdjust="spacingAndGlyphs">w</tspan><tspan x="128.73" y="0.00" font-size="40.51" textLength="23.53" lengthAdjust="spacingAndGlyphs">p</tspan><tspan x="153.68" y="0.00" font-size="40.59" textLength="18.64" lengthAdjust="spacingAndGlyphs">s</tspan><tspan x="173.62" y="0.00" font-size="40.48" textLength="23.32" lengthAdjust="spacingAndGlyphs">n</tspan><tspan x="197.75" y="0.00" font-size="40.48" textLength="16.59" lengthAdjust="spacingAndGlyphs">r</tspan><tspan x="213.55" y="0.00" font-size="38.06" textLength="11.69" lengthAdjust="spacingAndGlyphs">:</tspan><tspan x="225.93" y="0"> </tspan><tspan x="239.15" y="0.00" font-size="41.34" textLength="21.98" lengthAdjust="spacingAndGlyphs">2</tspan><tspan x="263.60" y="0.00" font-size="41.34" textLength="23.60" lengthAdjust="spacingAndGlyphs">6</tspan><tspan x="288.09" y="0.00" font-size="45.10" textLength="11.69" lengthAdjust="spacingAndGlyphs">.</tspan><tspan x="301.10" y="0.00" font-size="41.21" textLength="22.80" lengthAdjust="spacingAndGlyphs">4</tspan><tspan x="324.88" y="0"> </tspan><tspan x="338.55" y="-2.57" font-size="37.18" textLength="10.95" lengthAdjust="spacingAndGlyphs">(</tspan><tspan x="353.25" y="0.00" font-size="41.34" textLength="23.05" lengthAdjust="spacingAndGlyphs">8</tspan><tspan x="378.61" y="0.00" font-size="41.21" textLength="21.52" lengthAdjust="spacingAndGlyphs">5</tspan><tspan x="402.22" y="0.00" font-size="45.10" textLength="11.69" lengthAdjust="spacingAndGlyphs">.</tspan><tspan x="415.22" y="0.00" font-size="41.21" textLength="22.80" lengthAdjust="spacingAndGlyphs">4</tspan><tspan x="441.93" y="-2.57" font-size="37.18" textLength="10.95" lengthAdjust="spacingAndGlyphs">)</tspan></text>
</g>
<g>
<rect x="163.5" y="157.5" width="238" height="79.8" rx="5" ry="5" fill="#fff" fill-opacity="0.8" stroke="#cccccc" stroke-opacity="0.8" stroke-width="1.39"/>
<path d="M172,177 H224" stroke="#1f77b4" stroke-width="2"/>
<path d="M172,213 H224" stroke="#ff7f0e" stroke-width="2"/>
</g>
<g fill="#000" stroke="#000" stroke-width="0">
<text stroke="#000" stroke-width="0.1" transform="translate(242.50 185.50)"><tspan x="0.64" y="0.00" font-size="26.57" textLength="14.86" lengthAdjust="spacingAndGlyphs">S</tspan><tspan x="16.42" y="0.00" font-size="26.57" textLength="14.13" lengthAdjust="spacingAndGlyphs">2</tspan><tspan x="31.80" y="0.00" font-size="25.76" textLength="8.97" lengthAdjust="spacingAndGlyphs">-</tspan><tspan x="40.38" y="0.00" font-size="26.49" textLength="16.80" lengthAdjust="spacingAndGlyphs">A</tspan><tspan x="58.16" y="0.00" font-size="26.49" textLength="14.00" lengthAdjust="spacingAndGlyphs">1</tspan><tspan x="73.86" y="0.00" font-size="26.49" textLength="14.66" lengthAdjust="spacingAndGlyphs">4</tspan><tspan x="89.17" y="0.00" font-size="25.76" textLength="8.97" lengthAdjust="spacingAndGlyphs">-</tspan><tspan x="98.72" y="0.00" font-size="26.57" textLength="14.13" lengthAdjust="spacingAndGlyphs">2</tspan><tspan x="114.43" y="0.00" font-size="26.57" textLength="15.17" lengthAdjust="spacingAndGlyphs">6</tspan><tspan x="130.91" y="0.00" font-size="26.49" textLength="13.83" lengthAdjust="spacingAndGlyphs">5</tspan></text>
<text stroke="#000" stroke-width="0.1" transform="translate(242.50 222.19)"><tspan x="0.64" y="0.00" font-size="26.57" textLength="14.86" lengthAdjust="spacingAndGlyphs">S</tspan><tspan x="16.42" y="0.00" font-size="26.57" textLength="14.13" lengthAdjust="spacingAndGlyphs">2</tspan><tspan x="31.80" y="0.00" font-size="25.76" textLength="8.97" lengthAdjust="spacingAndGlyphs">-</tspan><tspan x="37.83" y="0.00" font-size="26.49" textLength="16.66" lengthAdjust="spacingAndGlyphs">T</tspan><tspan x="54.61" y="0.00" font-size="26.49" textLength="14.00" lengthAdjust="spacingAndGlyphs">1</tspan><tspan x="70.31" y="0.00" font-size="26.49" textLength="14.66" lengthAdjust="spacingAndGlyphs">4</tspan><tspan x="85.62" y="0.00" font-size="25.76" textLength="8.97" lengthAdjust="spacingAndGlyphs">-</tspan><tspan x="95.29" y="0.00" font-size="26.49" textLength="14.45" lengthAdjust="spacingAndGlyphs">E</tspan><tspan x="109.73" y="0.00" font-size="26.49" textLength="16.66" lengthAdjust="spacingAndGlyphs">T</tspan><tspan x="126.09" y="0.00" font-size="26.49" textLength="20.76" lengthAdjust="spacingAndGlyphs">M</tspan></text>
</g>
</svg>
</body></html>
